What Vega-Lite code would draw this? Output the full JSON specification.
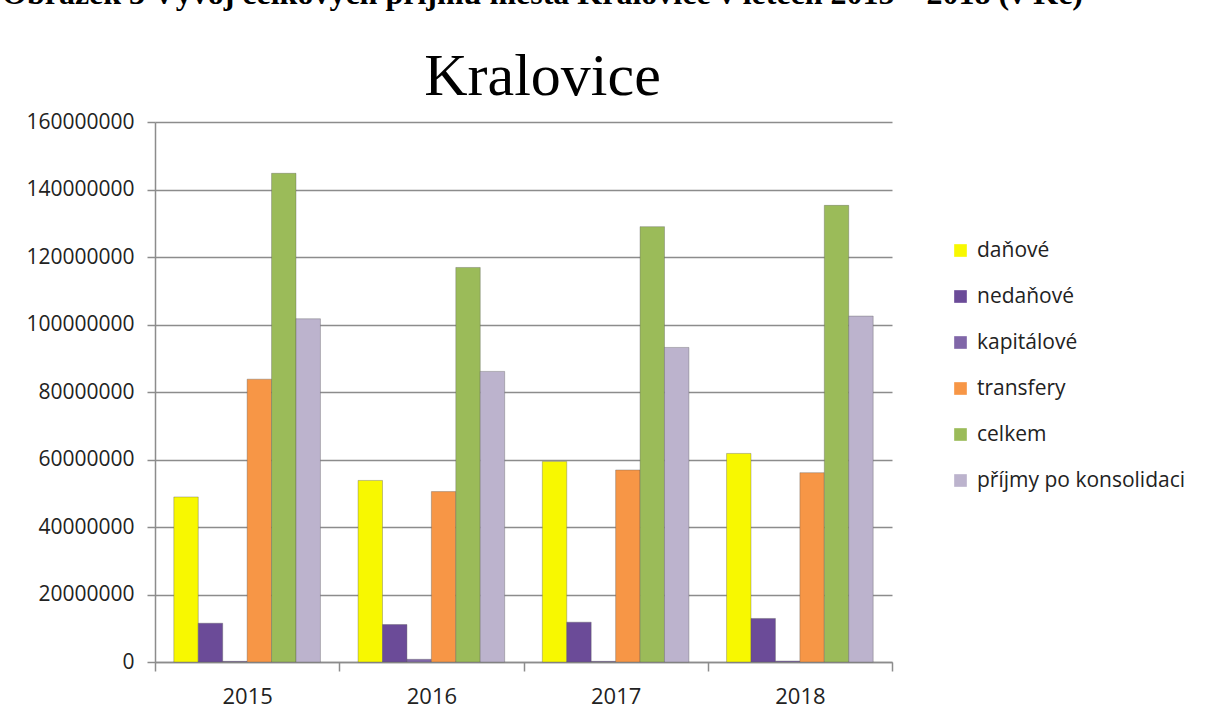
{
  "$schema": "https://vega.github.io/schema/vega-lite/v6.json",
  "width": 737,
  "height": 540,
  "autosize": {"type": "none"},
  "padding": {"left": 155, "top": 122, "right": 314, "bottom": 53},
  "background": "white",
  "title": {
    "text": "Obrázek 3 Vývoj celkových příjmů města Kralovice v letech 2015 – 2018 (v Kč)",
    "subtitle": "Kralovice",
    "font": "Liberation Serif",
    "fontSize": 32,
    "fontWeight": "bold",
    "color": "#000000",
    "subtitleFont": "Liberation Serif",
    "subtitleFontSize": 60,
    "subtitleColor": "#000000",
    "subtitlePadding": 37,
    "anchor": "middle",
    "frame": "group",
    "dx": 19,
    "offset": 3
  },
  "data": {
    "values": [
      {"rok": "2015", "kategorie": "daňové", "hodnota": 48900000},
      {"rok": "2015", "kategorie": "nedaňové", "hodnota": 11500000},
      {"rok": "2015", "kategorie": "kapitálové", "hodnota": 200000},
      {"rok": "2015", "kategorie": "transfery", "hodnota": 83800000},
      {"rok": "2015", "kategorie": "celkem", "hodnota": 144800000},
      {"rok": "2015", "kategorie": "příjmy po konsolidaci", "hodnota": 101700000},
      {"rok": "2016", "kategorie": "daňové", "hodnota": 53800000},
      {"rok": "2016", "kategorie": "nedaňové", "hodnota": 11100000},
      {"rok": "2016", "kategorie": "kapitálové", "hodnota": 800000},
      {"rok": "2016", "kategorie": "transfery", "hodnota": 50500000},
      {"rok": "2016", "kategorie": "celkem", "hodnota": 116900000},
      {"rok": "2016", "kategorie": "příjmy po konsolidaci", "hodnota": 86100000},
      {"rok": "2017", "kategorie": "daňové", "hodnota": 59400000},
      {"rok": "2017", "kategorie": "nedaňové", "hodnota": 11800000},
      {"rok": "2017", "kategorie": "kapitálové", "hodnota": 200000},
      {"rok": "2017", "kategorie": "transfery", "hodnota": 56900000},
      {"rok": "2017", "kategorie": "celkem", "hodnota": 129000000},
      {"rok": "2017", "kategorie": "příjmy po konsolidaci", "hodnota": 93200000},
      {"rok": "2018", "kategorie": "daňové", "hodnota": 61800000},
      {"rok": "2018", "kategorie": "nedaňové", "hodnota": 12900000},
      {"rok": "2018", "kategorie": "kapitálové", "hodnota": 300000},
      {"rok": "2018", "kategorie": "transfery", "hodnota": 56100000},
      {"rok": "2018", "kategorie": "celkem", "hodnota": 135300000},
      {"rok": "2018", "kategorie": "příjmy po konsolidaci", "hodnota": 102500000}
    ]
  },
  "mark": {"type": "bar", "strokeWidth": 1, "strokeOpacity": 0.35, "stroke": "#555555"},
  "encoding": {
    "x": {
      "field": "rok",
      "type": "nominal",
      "scale": {"paddingInner": 0, "paddingOuter": 0},
      "axis": {
        "title": null,
        "labelAngle": 0,
        "tickBand": "extent",
        "labelFont": "Open Sans",
        "labelFontSize": 22,
        "labelColor": "#222222",
        "labelPadding": 15,
        "tickSize": 9,
        "tickColor": "#8c8c8c",
        "domainColor": "#8c8c8c",
        "domainWidth": 1.5,
        "tickWidth": 1.5
      }
    },
    "xOffset": {
      "field": "kategorie",
      "type": "nominal",
      "sort": ["daňové", "nedaňové", "kapitálové", "transfery", "celkem", "příjmy po konsolidaci"],
      "scale": {"paddingInner": 0, "paddingOuter": 0.77}
    },
    "y": {
      "field": "hodnota",
      "type": "quantitative",
      "scale": {"domain": [0, 160000000], "nice": false},
      "axis": {
        "title": null,
        "values": [0, 20000000, 40000000, 60000000, 80000000, 100000000, 120000000, 140000000, 160000000],
        "format": "d",
        "labelFont": "Open Sans",
        "labelFontSize": 21,
        "labelColor": "#222222",
        "labelPadding": 13,
        "tickSize": 8,
        "tickColor": "#8c8c8c",
        "tickWidth": 1.5,
        "domainColor": "#8c8c8c",
        "domainWidth": 1.5,
        "grid": true,
        "gridColor": "#8c8c8c",
        "gridWidth": 1.5
      }
    },
    "color": {
      "field": "kategorie",
      "type": "nominal",
      "scale": {
        "domain": ["daňové", "nedaňové", "kapitálové", "transfery", "celkem", "příjmy po konsolidaci"],
        "range": ["#F8F800", "#6B4B98", "#8066A8", "#F79646", "#9BBB59", "#BCB3CD"]
      },
      "legend": {
        "title": null,
        "orient": "none",
        "legendX": 795,
        "legendY": 118,
        "symbolType": "square",
        "symbolSize": 160,
        "symbolStrokeWidth": 0,
        "labelFont": "Open Sans",
        "labelFontSize": 21,
        "labelColor": "#222222",
        "labelOffset": 6,
        "rowPadding": 24,
        "labelLimit": 300
      }
    }
  },
  "config": {
    "view": {"stroke": null}
  }
}
